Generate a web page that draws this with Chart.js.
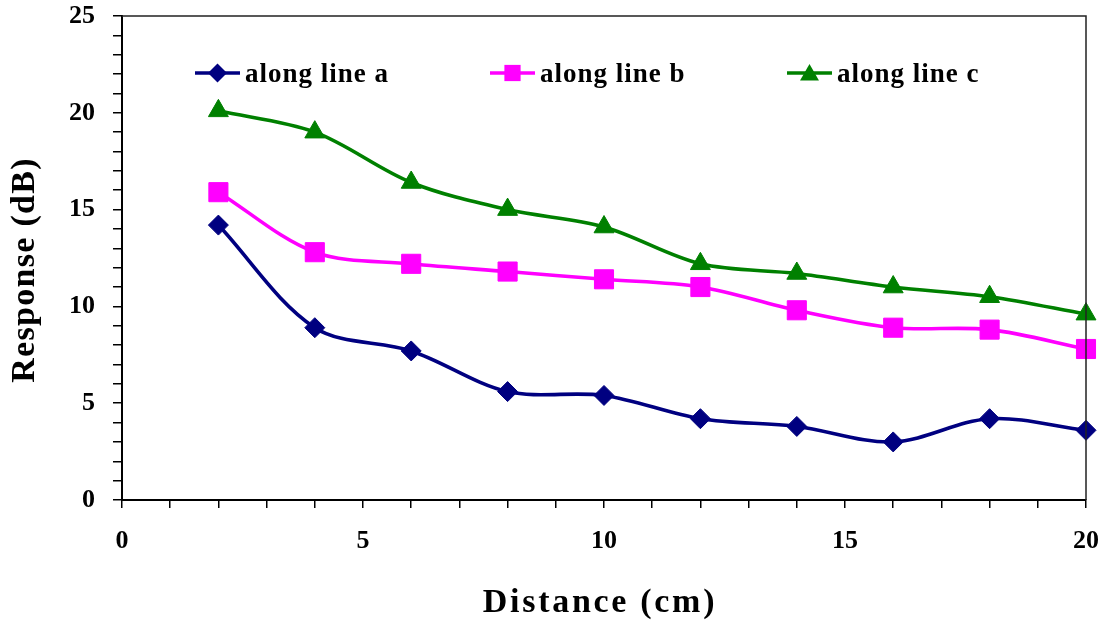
<!DOCTYPE html>
<html>
<head>
<meta charset="utf-8">
<script src="https://cdn.jsdelivr.net/npm/chart.js@4/dist/chart.umd.min.js"></script>
<style>
html,body{margin:0;padding:0;background:#fff;}
#wrap{width:1103px;height:623px;}
</style>
</head>
<body>
<div id="wrap"><canvas id="c" width="1103" height="623"></canvas></div>
<script>
const distance = [2, 4, 6, 8, 10, 12, 14, 16, 18, 20];
const lineA = [14.2, 8.9, 7.7, 5.6, 5.4, 4.2, 3.8, 3.0, 4.2, 3.6];
const lineB = [15.9, 12.8, 12.2, 11.8, 11.4, 11.0, 9.8, 8.9, 8.8, 7.8];
const lineC = [20.1, 19.0, 16.4, 15.0, 14.1, 12.2, 11.7, 11.0, 10.5, 9.6];
const seriesNames = ['along line a', 'along line b', 'along line c'];
const xTitle = 'Distance (cm)';
const yTitle = 'Response (dB)';
const xTickLabels = [0, 5, 10, 15, 20];
const yTickLabels = [0, 5, 10, 15, 20, 25];

const colors = ['#000080', '#FF00FF', '#008000'];
const styles = ['rectRot', 'rect', 'triangle'];
const radii = [10, 13.5, 11.5];

function pts(arr) { return distance.map((d, i) => ({x: d, y: arr[i]})); }

const datasets = [lineA, lineB, lineC].map((arr, i) => ({
  label: seriesNames[i],
  data: pts(arr),
  borderColor: colors[i],
  backgroundColor: colors[i],
  borderWidth: 3.6,
  tension: 0.33,
  pointStyle: styles[i],
  pointRadius: radii[i],
  pointBorderWidth: 1,
  pointBackgroundColor: colors[i],
  pointBorderColor: colors[i],
  clip: false
}));

function drawMarker(ctx, style, x, y, r) {
  ctx.beginPath();
  if (style === 'rectRot') {
    ctx.moveTo(x, y - r); ctx.lineTo(x + r, y); ctx.lineTo(x, y + r); ctx.lineTo(x - r, y);
  } else if (style === 'rect') {
    const s = Math.SQRT1_2 * r;
    ctx.rect(x - s, y - s, 2 * s, 2 * s);
  } else {
    ctx.moveTo(x, y - r);
    ctx.lineTo(x + Math.sin(2 * Math.PI / 3) * r, y - Math.cos(2 * Math.PI / 3) * r);
    ctx.lineTo(x + Math.sin(4 * Math.PI / 3) * r, y - Math.cos(4 * Math.PI / 3) * r);
  }
  ctx.closePath();
  ctx.fill();
}

const deco = {
  id: 'deco',
  afterDraw(chart) {
    const {ctx, chartArea: a} = chart;
    ctx.save();
    ctx.strokeStyle = '#222';
    ctx.lineWidth = 1.5;
    ctx.beginPath();
    ctx.moveTo(a.left, a.top);
    ctx.lineTo(a.right, a.top);
    ctx.lineTo(a.right, a.bottom);
    ctx.stroke();

    // legend
    const lx = [195, 490, 787];
    const ly = 73;
    chart.data.datasets.forEach((ds, i) => {
      ctx.strokeStyle = colors[i];
      ctx.fillStyle = colors[i];
      ctx.lineWidth = 3.6;
      ctx.beginPath();
      ctx.moveTo(lx[i], ly);
      ctx.lineTo(lx[i] + 45, ly);
      ctx.stroke();
      drawMarker(ctx, styles[i], lx[i] + 22.5, ly + (i === 2 ? 2 : 0), radii[i] * (i === 1 ? 0.85 : 0.95));
      ctx.fillStyle = '#000';
      ctx.font = 'bold 27px "Liberation Serif"';
      ctx.letterSpacing = '1px';
      ctx.textAlign = 'left';
      ctx.textBaseline = 'alphabetic';
      ctx.fillText(ds.label, lx[i] + 50, 82);
    });

    // axis titles
    ctx.fillStyle = '#000';
    ctx.font = 'bold 34px "Liberation Serif"';
    ctx.letterSpacing = '2.7px';
    ctx.textAlign = 'center';
    ctx.textBaseline = 'alphabetic';
    ctx.fillText(xTitle, 600, 612);
    ctx.translate(34, 270);
    ctx.rotate(-Math.PI / 2);
    ctx.letterSpacing = '1.3px';
    ctx.fillText(yTitle, 0, 0);
    ctx.restore();
  }
};

const tickFont = {family: '"Liberation Serif", "Times New Roman", serif', size: 26, weight: 'bold'};

new Chart(document.getElementById('c'), {
  type: 'line',
  data: {datasets},
  options: {
    responsive: false,
    animation: false,
    devicePixelRatio: 1,
    layout: {padding: {left: 0, top: 16, right: 17, bottom: 0}},
    plugins: {legend: {display: false}, tooltip: {enabled: false}},
    scales: {
      x: {
        type: 'linear', min: 0, max: 20,
        afterFit(s) { s.height = 123; s.paddingLeft = 0; s.paddingRight = 0; },
        border: {display: true, color: '#000', width: 2},
        grid: {drawOnChartArea: false, drawTicks: true, tickLength: 8, color: '#000', lineWidth: 1.5},
        ticks: {
          stepSize: 1, autoSkip: false, maxRotation: 0, padding: 18,
          color: '#000', font: tickFont,
          callback: v => xTickLabels.includes(v) ? String(v) : ''
        }
      },
      y: {
        type: 'linear', min: 0, max: 25,
        afterFit(s) { s.width = 122; s.paddingTop = 0; s.paddingBottom = 0; },
        border: {display: true, color: '#000', width: 2},
        grid: {drawOnChartArea: false, drawTicks: true, tickLength: 9, color: '#000', lineWidth: 1.5},
        ticks: {
          stepSize: 1, autoSkip: false, padding: 18,
          color: '#000', font: tickFont,
          callback: v => yTickLabels.includes(v) ? String(v) : ''
        }
      }
    }
  },
  plugins: [deco]
});
</script>
</body>
</html>
